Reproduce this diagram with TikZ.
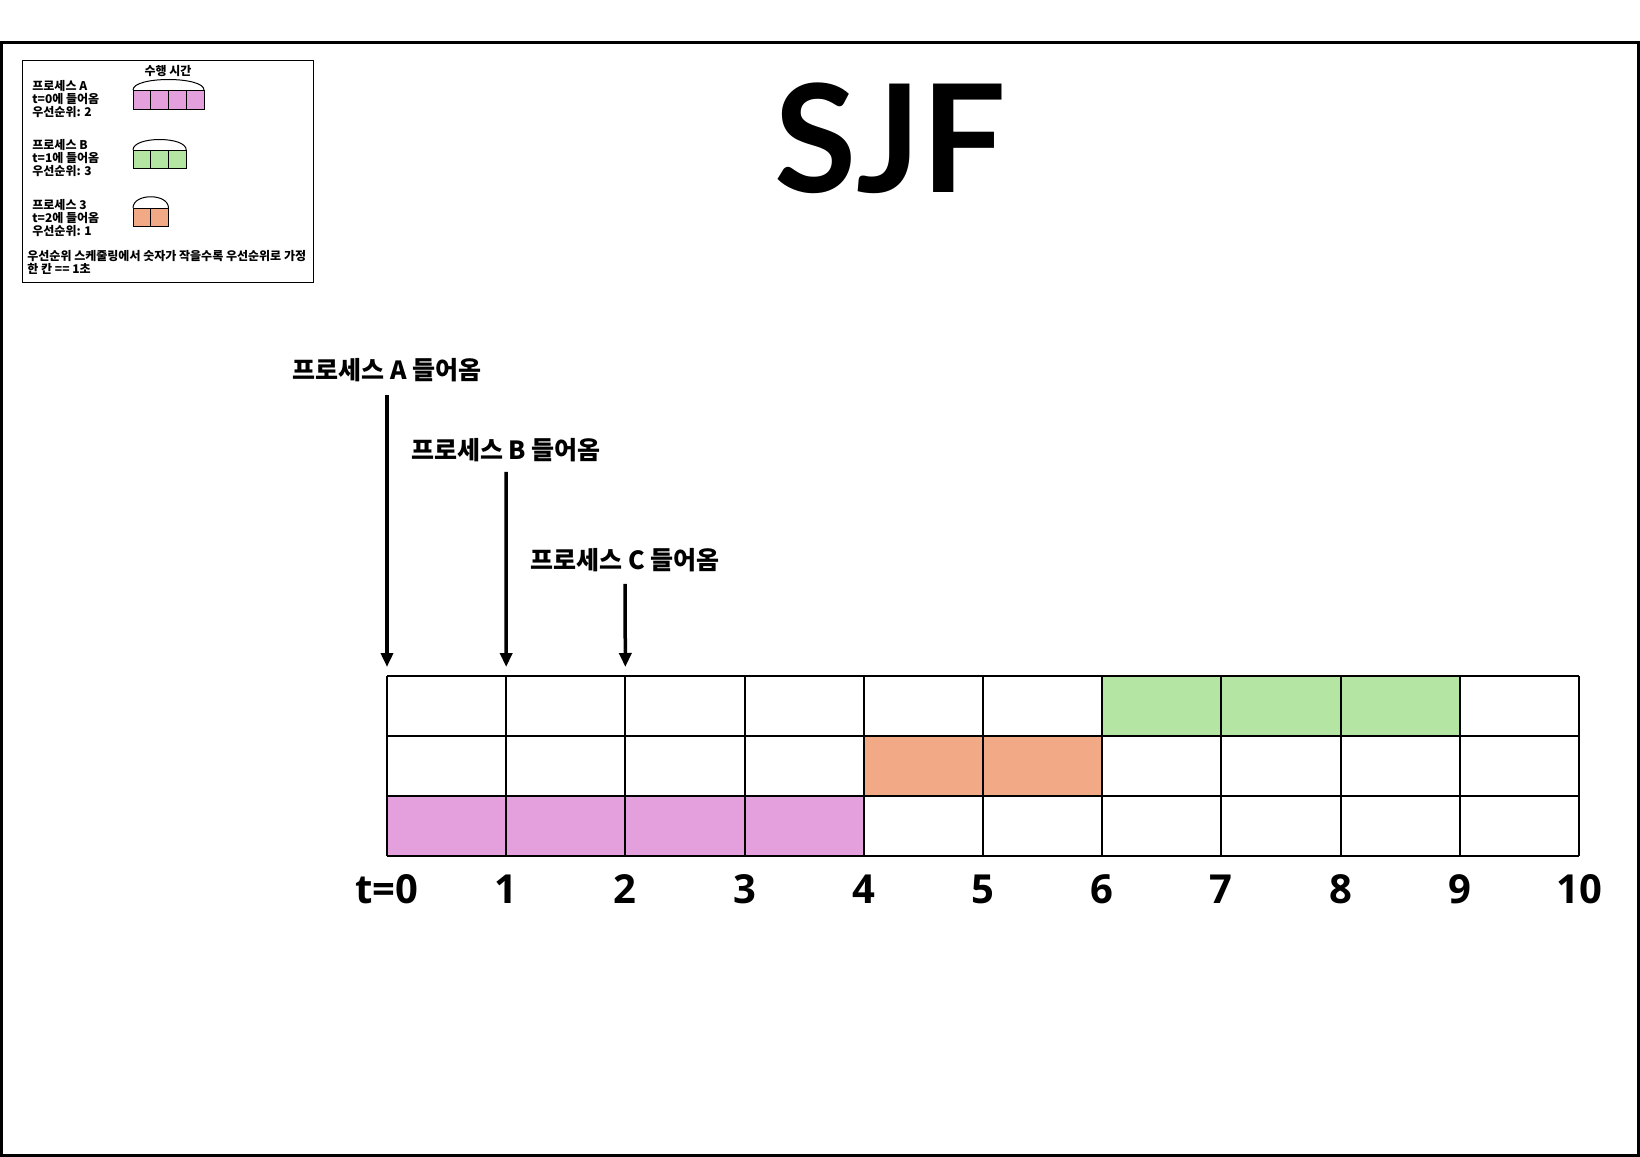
\documentclass[tikz,border=0pt]{standalone}
\usepackage{fontspec}
\setmainfont{Noto Sans CJK KR}
\newfontfamily\latinfont{Open Sans}
\newfontfamily\titlefont{Lato}
\usetikzlibrary{arrows.meta}
\definecolor{sjfpink}{RGB}{228,159,221}
\definecolor{sjfgreen}{RGB}{181,229,162}
\definecolor{sjforange}{RGB}{241,170,133}
\begin{document}
\begin{tikzpicture}[x=0.5pt, y=-0.5pt, font=\bfseries,
    gridline/.style={line width=1pt},
    arr/.style={-{Triangle[length=7pt, width=6pt]}, line width=1.75pt},
    inlabel/.style={font=\bfseries\fontsize{12.5}{14}\selectfont},
    tlabel/.style={anchor=base, font=\latinfont\bfseries\fontsize{20}{22}\selectfont},
    legtext/.style={anchor=west, align=left, inner sep=0pt,
      font=\bfseries\fontsize{6}{6.5}\selectfont},
    legcell/.style={draw, line width=0.5pt}]
  \useasboundingbox (0,0) rectangle (1640,1157);
  \draw[line width=1.5pt] (1.5,42) rectangle (1638.5,1155.5); % frame
  % legend
  \draw[line width=0.5pt] (22,60) rectangle (313,282);
  \node[legtext, anchor=center] (runtime) at (168,71) {수행 시간};
  \node[legtext] (legA) at (32,99) {프로세스 A\\t=0에 들어옴\\우선순위: 2};
  \node[legtext] (legB) at (32,158) {프로세스 B\\t=1에 들어옴\\우선순위: 3};
  \node[legtext] (legC) at (32,218) {프로세스 3\\t=2에 들어옴\\우선순위: 1};
  \node[legtext] (legnote) at (27,262) {우선순위 스케줄링에서 숫자가 작을수록 우선순위로 가정\\한 칸 == 1초};
  \foreach \i in {0,...,3}
    \draw[legcell, fill=sjfpink] (133+17.75*\i,90) rectangle ++(17.75,19);
  \draw[line width=0.5pt] (133,90) .. controls (133,76) and (204,76) .. (204,90);
  \foreach \i in {0,...,2}
    \draw[legcell, fill=sjfgreen] (133+17.75*\i,150) rectangle ++(17.75,18);
  \draw[line width=0.5pt] (133,150) .. controls (133,136) and (186.25,136) .. (186.25,150);
  \foreach \i in {0,1}
    \draw[legcell, fill=sjforange] (133+17.75*\i,208) rectangle ++(17.75,18);
  \draw[line width=0.5pt] (133,208) .. controls (133,193) and (168.5,193) .. (168.5,208);
  % title
  \node[anchor=base, inner sep=0pt, font=\titlefont\bfseries\fontsize{75}{80}\selectfont] (title) at (890,192) {SJF};
  % schedule
  \foreach \i in {6,7,8}
    \fill[sjfgreen] (387+119.2*\i,676) rectangle ++(119.2,60);
  \foreach \i in {4,5}
    \fill[sjforange] (387+119.2*\i,736) rectangle ++(119.2,60);
  \foreach \i in {0,...,3}
    \fill[sjfpink] (387+119.2*\i,796) rectangle ++(119.2,60);
  \foreach \i in {0,...,10}
    \draw[gridline] (387+119.2*\i,676) -- (387+119.2*\i,856);
  \foreach \j in {0,...,3}
    \draw[gridline] (387,676+60*\j) -- (1579,676+60*\j);
  \foreach \i/\lbl in {0/t=0,1/1,2/2,3/3,4/4,5/5,6/6,7/7,8/8,9/9,10/10} {
    \coordinate (g\i) at (387+119.2*\i,676);
    \node[tlabel] (tl\i) at (387+119.2*\i,903) {\lbl};
  }
  % arrivals
  \node[inlabel] (arrA) at (387,370) {프로세스 A 들어옴};
  \node[inlabel] (arrB) at (506,450) {프로세스 B 들어옴};
  \node[inlabel] (arrC) at (625,560) {프로세스 C 들어옴};
  \draw[arr, shorten <=3pt, shorten >=4.5pt] (arrA.south) -- (g0);
  \draw[arr, shorten <=1.5pt, shorten >=4.5pt] (arrB.south) -- (g1);
  \draw[arr, shorten <=2.5pt, shorten >=4.5pt] (arrC.south) -- (g2);
\end{tikzpicture}
\end{document}
